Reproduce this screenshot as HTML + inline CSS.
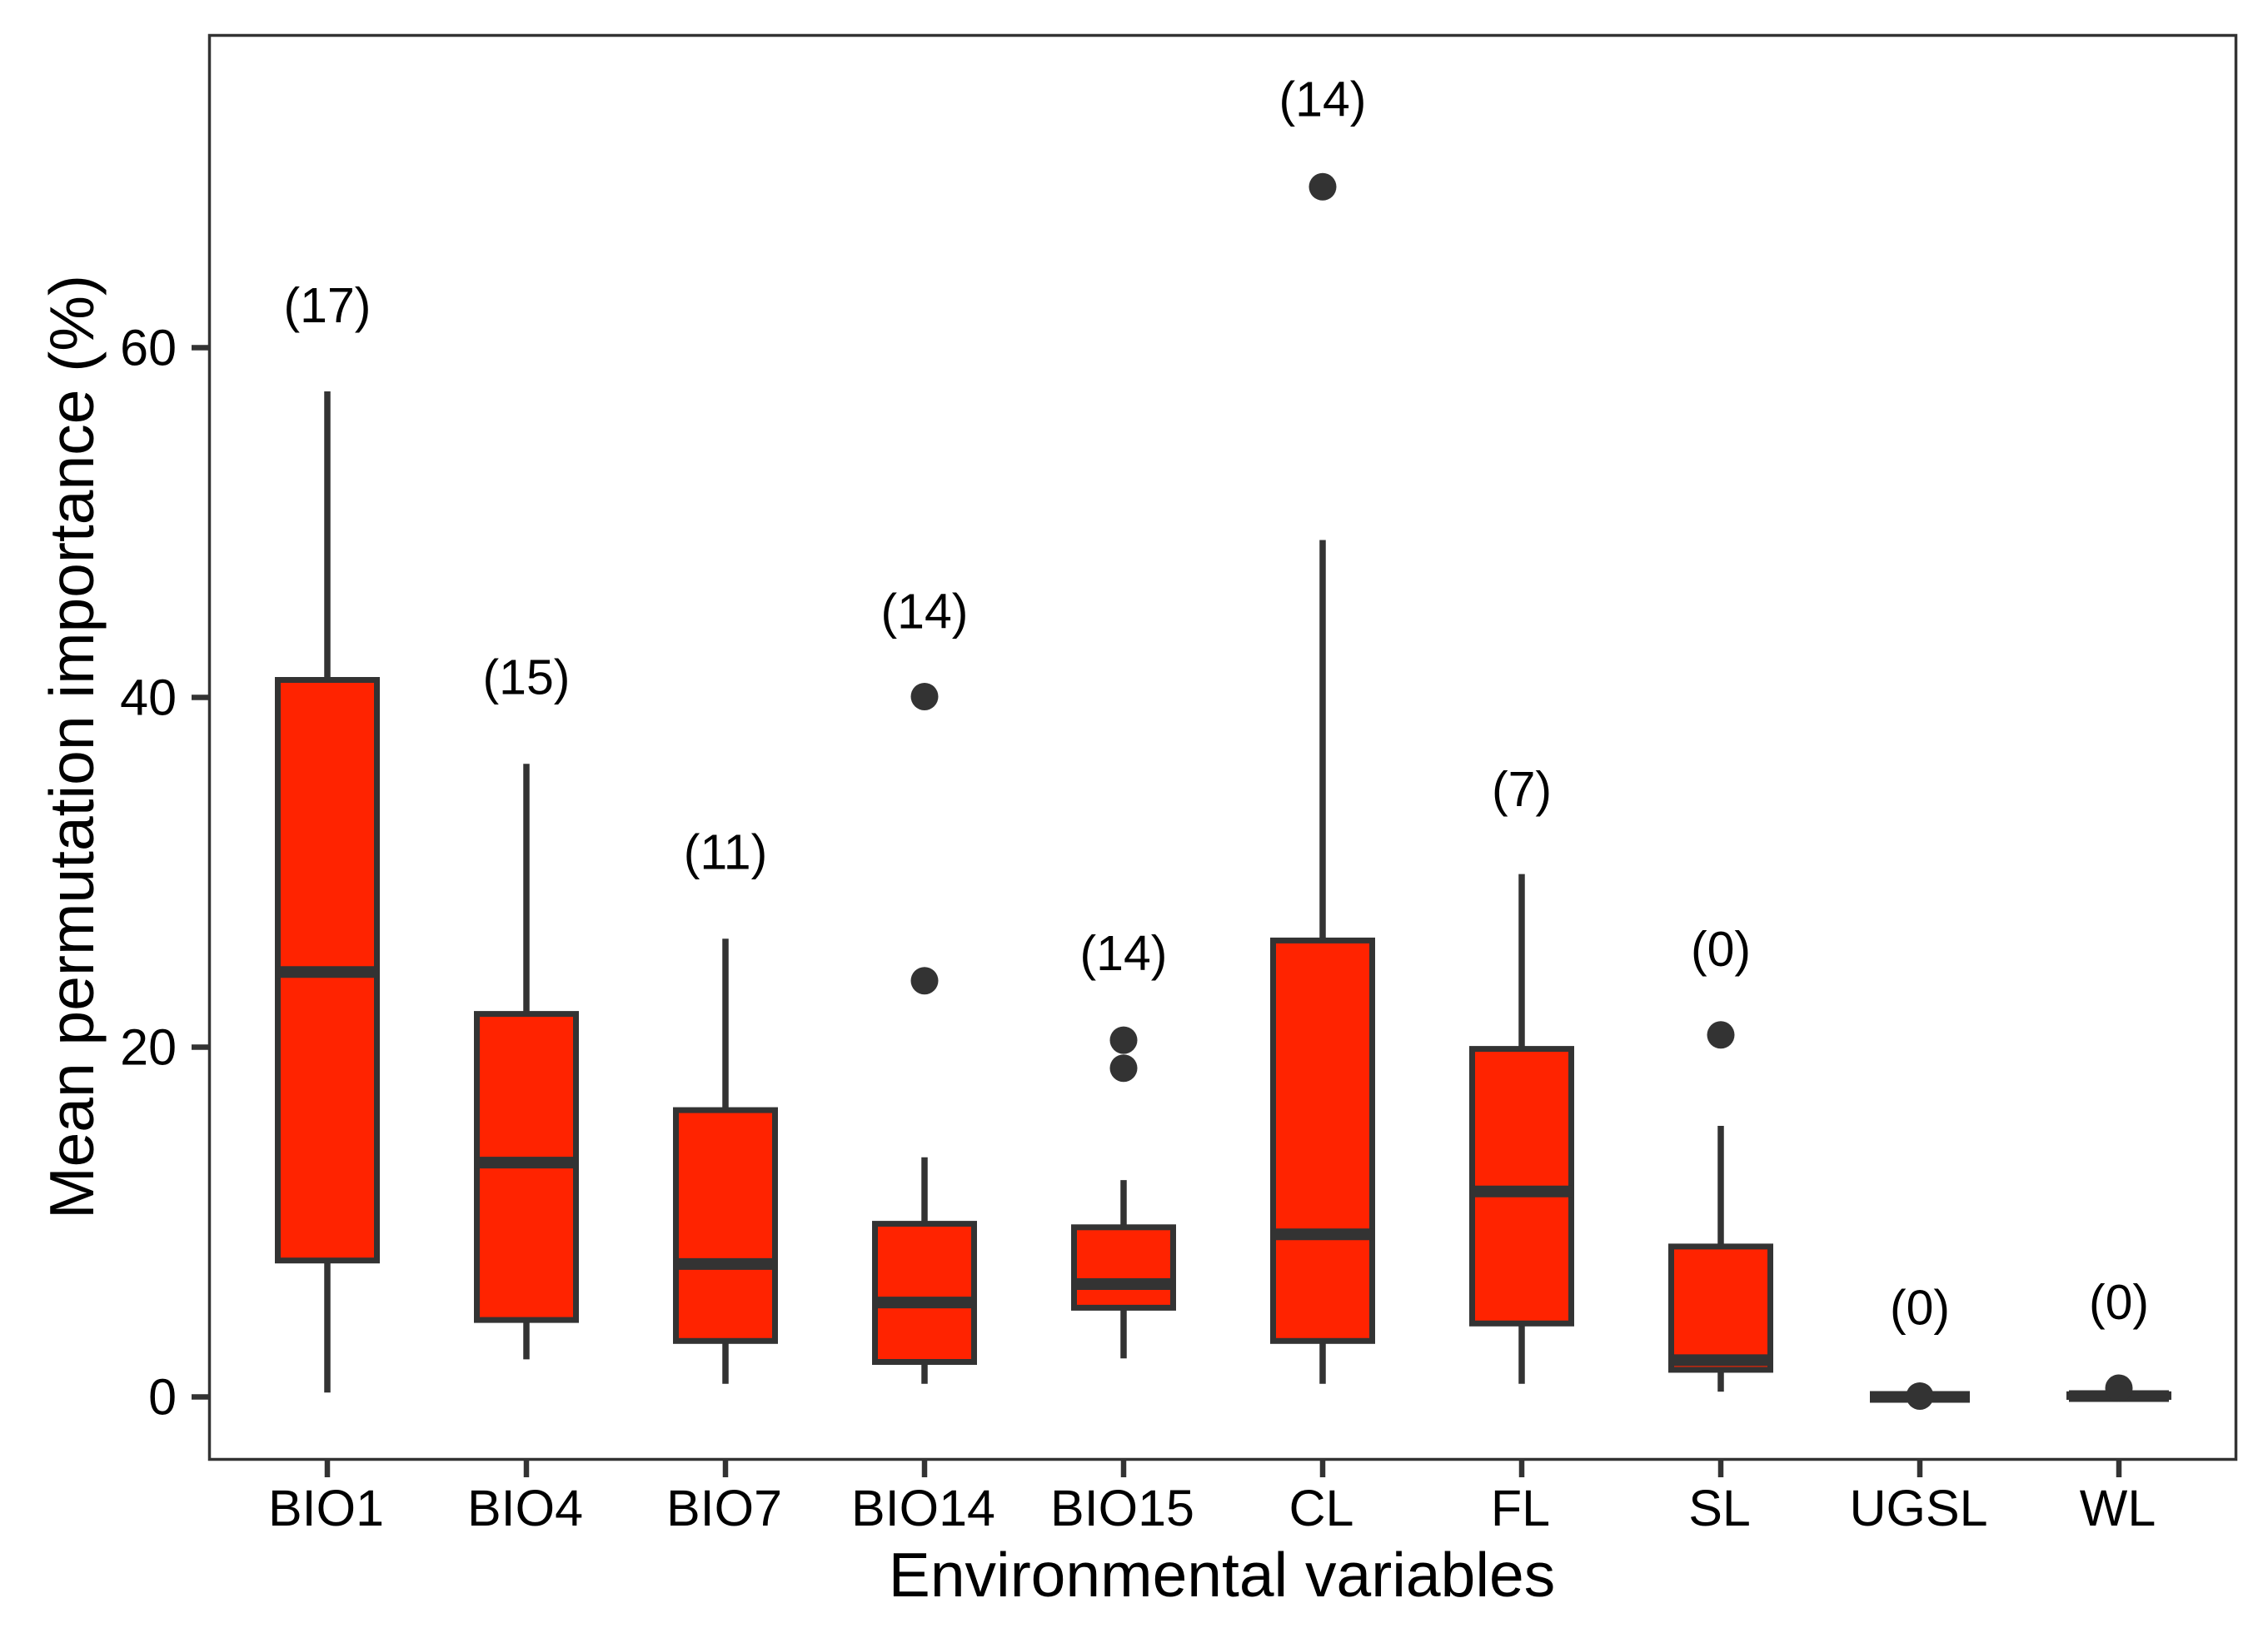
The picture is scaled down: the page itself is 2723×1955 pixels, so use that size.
<!DOCTYPE html>
<html lang="en">
<head>
<meta charset="utf-8">
<title>Mean permutation importance boxplot</title>
<style>
html,body{margin:0;padding:0;background:#fff;width:2723px;height:1955px;overflow:hidden}
svg{display:block;font-family:"Liberation Sans",Arial,sans-serif}
</style>
</head>
<body>
<svg id="chart" width="2723" height="1955" viewBox="0 0 2723 1955" xmlns="http://www.w3.org/2000/svg">
  <rect x="0" y="0" width="2723" height="1955" fill="#ffffff"/>
  <g id="marks"></g>
  <rect x="251.5" y="42.5" width="2433" height="1710" fill="none" stroke="#333333" stroke-width="3.5"/>
  <g id="axes"></g>
  <text x="1467" y="1917" font-size="75" text-anchor="middle" fill="#000">Environmental variables</text>
  <text transform="translate(112,897) rotate(-90)" font-size="75" text-anchor="middle" fill="#000">Mean permutation importance (%)</text>
</svg>
<script>
const categories = ["BIO1","BIO4","BIO7","BIO14","BIO15","CL","FL","SL","UGSL","WL"];
const whiskerHigh = [57.5,36.2,26.2,13.7,12.4,49.0,29.9,15.5,0.0,0.1];
const q3Values    = [41.0,21.9,16.4,9.9,9.7,26.1,19.9,8.6,0.0,0.15];
const medians     = [24.3,13.4,7.6,5.4,6.45,9.3,11.75,2.1,0.0,0.05];
const q1Values    = [7.8,4.4,3.2,2.0,5.1,3.2,4.2,1.55,0.0,0.0];
const whiskerLow  = [0.25,2.15,0.75,0.75,2.2,0.75,0.75,0.3,0.0,0.0];
const outliers    = [[],[],[],[40.05,23.8],[20.4,18.8],[69.2],[],[20.7],[0.05],[0.5]];
const countLabels = ["(17)","(15)","(11)","(14)","(14)","(14)","(7)","(0)","(0)","(0)"];
const countLabelY = [62.4,41.15,31.15,44.9,25.35,74.2,34.75,25.6,5.1,5.4];
const yTicks = [0,20,40,60];

const NS = "http://www.w3.org/2000/svg";
const DARK = "#333333";
const RED = "#FF2300";
const xScale = i => 393 + 239 * i;
const yScale = v => 1677.5 - 21 * v;
const marks = document.getElementById("marks");
const axes = document.getElementById("axes");

function make(tag, attrs, parent, text) {
  const el = document.createElementNS(NS, tag);
  for (const k in attrs) el.setAttribute(k, attrs[k]);
  if (text !== undefined) el.textContent = text;
  parent.appendChild(el);
  return el;
}

categories.forEach((cat, i) => {
  const key = cat.toLowerCase();
  const cx = xScale(i);
  const group = make("g", {}, marks);
  
  

  const upper = make("line", {x1:cx, x2:cx, y1:yScale(whiskerHigh[i]), y2:yScale(q3Values[i]), stroke:DARK, "stroke-width":7.5}, group);
  
  

  const lower = make("line", {x1:cx, x2:cx, y1:yScale(q1Values[i]), y2:yScale(whiskerLow[i]), stroke:DARK, "stroke-width":7.5}, group);
  
  

  const box = make("rect", {x:cx-59.5, width:119, y:yScale(q3Values[i]), height:yScale(q1Values[i])-yScale(q3Values[i]), fill:RED, stroke:DARK, "stroke-width":7}, group);
  
  

  const med = make("line", {x1:cx-60, x2:cx+60, y1:yScale(medians[i]), y2:yScale(medians[i]), stroke:DARK, "stroke-width":14}, group);
  
  

  outliers[i].forEach(v => {
    const pt = make("circle", {cx:cx, cy:yScale(v), r:16.5, fill:DARK}, group);
    
    
  });

  const lab = make("text", {x:cx, y:yScale(countLabelY[i])+20, "font-size":59, "text-anchor":"middle", fill:"#000"}, group, countLabels[i]);
  
  

  const tick = make("line", {x1:cx, x2:cx, y1:1754, y2:1774, stroke:DARK, "stroke-width":6.5}, axes);
  
  

  const tl = make("text", {x:cx-1.5, y:1832, "font-size":61, "text-anchor":"middle", fill:"#000"}, axes, cat);
  
  
});

yTicks.forEach(v => {
  const y = yScale(v);
  const tick = make("line", {x1:230, x2:250, y1:y, y2:y, stroke:DARK, "stroke-width":6.5}, axes);
  
  

  const tl = make("text", {x:212, y:y+21, "font-size":61, "text-anchor":"end", fill:"#000"}, axes, String(v));
  
  
});
</script>
</body>
</html>
